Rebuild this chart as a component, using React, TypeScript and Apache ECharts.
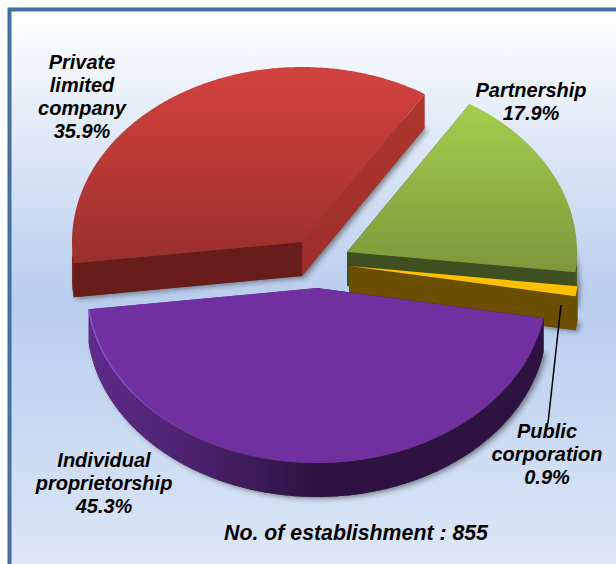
import React, { useEffect, useRef } from "react";
import * as echarts from "echarts";

const categories = ["Private\nlimited\ncompany", "Partnership", "Public\ncorporation", "Individual\nproprietorship"];
const values = [35.9, 17.9, 0.9, 45.3];
const caption = "No. of establishment : 855";

const START_DEG = 173.0;
const RX = 230;
const RY = 175;
const DEPTH = 34;
const centers = [[302, 242], [347, 252], [349, 266], [317, 288]];
const labelPos = [[82, 96], [531, 101], [547, 454], [104, 483]];

const G = (x2: number, y2: number, stops: [number, string][]) =>
  new echarts.graphic.LinearGradient(0, 0, x2, y2, stops.map(([offset, color]) => ({ offset, color })));

const topFills = [
  () => G(0, 1, [[0, "#d2423f"], [0.5, "#b93835"], [1, "#98302c"]]),
  () => G(0, 1, [[0, "#a5ce4e"], [1, "#7c973b"]]),
  () => "#ffc000",
  () => "#7030a0",
];
const sideFills = [
  () => "#7a2320",
  () => "#4a5e26",
  () => "#6b4e00",
  () => G(1, 0, [[0, "#5e2c8a"], [0.2, "#4e2372"], [0.5, "#2e1342"], [1, "#2e1342"]]),
];
const startFaceFills = ["#691d1a", "#3f5020", "#6b4e00", "#2e1342"];
const endFaceFills = [() => G(0, 1, [[0, "#b0352f"], [1, "#9c2e2a"]]), () => "#3f5020", () => "#6b4e00", () => "#5e2c8a"];
const rimStrokes = [
  null,
  null,
  null,
  () => G(1, 0, [[0, "#9155cc"], [0.45, "rgba(112,48,160,0)"], [1, "rgba(112,48,160,0)"]]),
];

function renderSlice(params: any, api: any) {
  const i = params.dataIndex;
  const total = values.reduce((a, b) => a + b, 0);
  const before = values.slice(0, i).reduce((a, b) => a + b, 0);
  const a0 = START_DEG + (before / total) * 360;
  const a1 = a0 + (api.value(0) / total) * 360;
  const [cx, cy] = centers[i];
  const at = (deg: number, dy = 0) => {
    const t = (deg * Math.PI) / 180;
    return [cx + RX * Math.cos(t), cy + RY * Math.sin(t) + dy];
  };
  const arc = (from: number, to: number, dy = 0) => {
    const n = Math.max(2, Math.ceil(Math.abs(to - from) * 2));
    const pts: number[][] = [];
    for (let k = 0; k <= n; k++) pts.push(at(from + ((to - from) * k) / n, dy));
    return pts;
  };
  const apex = [cx, cy];
  const apexLow = [cx, cy + DEPTH];
  const children: any[] = [];

  // soft shadow under the solid
  children.push({
    type: "polygon",
    shape: { points: [apexLow, ...arc(a0, a1, DEPTH)] },
    style: {
      fill: "rgba(60,60,60,0.9)",
      shadowBlur: 5,
      shadowOffsetX: 3,
      shadowOffsetY: 2,
      shadowColor: "rgba(40,40,40,0.55)",
    },
  });
  // cut faces
  children.push({
    type: "polygon",
    shape: { points: [apex, at(a0), at(a0, DEPTH), apexLow] },
    style: { fill: startFaceFills[i] },
  });
  children.push({
    type: "polygon",
    shape: { points: [apex, at(a1), at(a1, DEPTH), apexLow] },
    style: { fill: endFaceFills[i]() },
  });
  // outer rim, only the part facing the viewer
  const ranges: [number, number][] = [[0, 180], [360, 540]];
  for (const [lo, hi] of ranges) {
    const s = Math.max(a0, lo);
    const e = Math.min(a1, hi);
    if (e > s) {
      children.push({
        type: "polygon",
        shape: { points: [...arc(s, e), ...arc(e, s, DEPTH)] },
        style: { fill: sideFills[i]() },
      });
    }
  }
  // top
  children.push({
    type: "polygon",
    shape: { points: [apex, ...arc(a0, a1)] },
    style: { fill: topFills[i]() },
  });
  const rim = rimStrokes[i];
  if (rim) {
    children.push({
      type: "polyline",
      shape: { points: arc(a0, a1) },
      style: { fill: "none", stroke: rim(), lineWidth: 1.5 },
    });
  }
  return { type: "group", children };
}

const textStyle = {
  fontFamily: "Liberation Sans",
  fontWeight: "bold",
  fontStyle: "italic",
  fontSize: 20,
  lineHeight: 23,
  fill: "#000",
  align: "center",
  verticalAlign: "middle",
};

export default function App() {
  const ref = useRef<HTMLDivElement>(null);
  useEffect(() => {
    document.body.style.margin = "0";
    const chart = echarts.init(ref.current!, null, { renderer: "svg" });
    chart.setOption({
      animation: false,
      graphic: [
        {
          type: "rect",
          z: 0,
          shape: { x: 9.5, y: 9.5, width: 640, height: 580 },
          style: {
            fill: G(0, 1, [[0, "#ffffff"], [0.5, "#b9cdee"], [1, "#e0e9f8"]]),
            stroke: "#44709f",
            lineWidth: 4,
          },
        },
        {
          type: "line",
          z: 10,
          shape: { x1: 561, y1: 305, x2: 548, y2: 423 },
          style: { stroke: "#000", lineWidth: 1.5 },
        },
        ...categories.map((name, i) => ({
          type: "text",
          z: 10,
          x: labelPos[i][0],
          y: labelPos[i][1],
          style: { ...textStyle, text: `${name}\n${values[i].toFixed(1)}%` },
        })),
        {
          type: "text",
          z: 10,
          x: 356,
          y: 533,
          style: { ...textStyle, text: caption, fontSize: 21.3 },
        },
      ],
      series: [
        {
          type: "custom",
          coordinateSystem: "none",
          renderItem: renderSlice,
          data: values,
          silent: true,
        },
      ],
    });
    return () => chart.dispose();
  }, []);
  return <div ref={ref} style={{ position: "absolute", left: 0, top: 0, width: 616, height: 564 }} />;
}
